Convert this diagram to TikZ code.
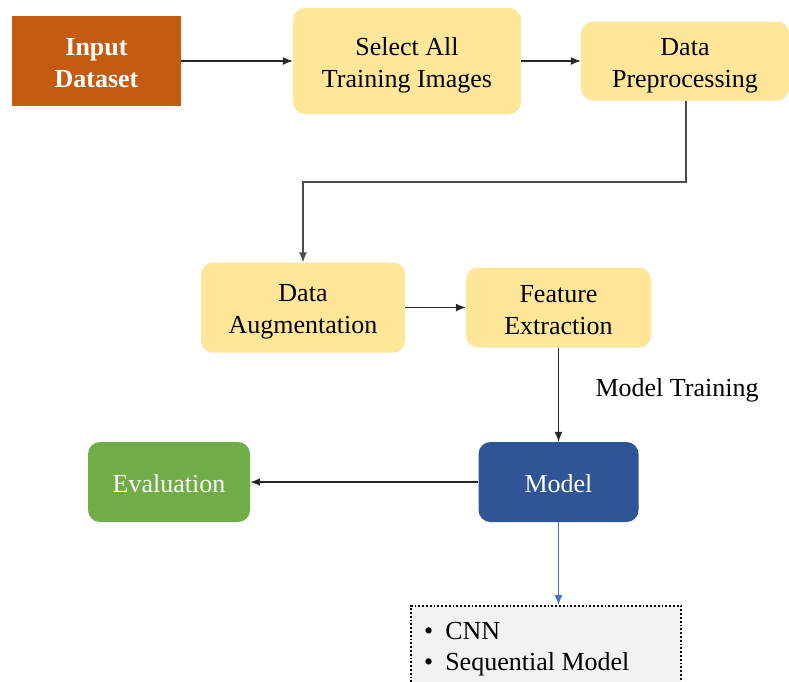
\documentclass[tikz,border=0pt]{standalone}
\usepackage{fontspec}
\setmainfont{Liberation Serif}
\usetikzlibrary{arrows.meta}
\definecolor{inorange}{HTML}{C55A11}
\definecolor{stepyellow}{HTML}{FFE699}
\definecolor{modelblue}{HTML}{2F5597}
\definecolor{evalgreen}{HTML}{70AD47}
\definecolor{linkblue}{HTML}{4472C4}
\definecolor{listgray}{HTML}{F2F2F2}
\tikzset{
  basebox/.style={inner sep=0pt},
  boxtxt/.style={inner sep=0pt, align=center, font=\fontsize{26}{32}\selectfont},
  yellowbox/.style={basebox, fill=stepyellow, rounded corners=12pt},
  conn/.style={draw=black!85, line width=1.4pt, -{Latex[length=10pt,width=8pt]}},
}
\begin{document}
\begin{tikzpicture}[x=1pt,y=-1pt]
\clip (0,0) rectangle (789,681);
\fill[white] (0,0) rectangle (789,681);
\node[basebox, fill=inorange, minimum width=169pt, minimum height=90pt,
  label={[boxtxt, text=white, font=\fontsize{26}{32}\selectfont\bfseries, yshift=-2.5pt]center:Input\\Dataset}] (in) at (96.5,61) {};
\node[yellowbox, minimum width=228pt, minimum height=106pt,
  label={[boxtxt, yshift=-4pt]center:Select All\\Training Images}] (sel) at (407,61) {};
\node[yellowbox, minimum width=208pt, minimum height=79pt,
  label={[boxtxt, yshift=-4.5pt]center:Data\\Preprocessing}] (pre) at (685,61) {};
\node[yellowbox, minimum width=204pt, minimum height=90pt,
  label={[boxtxt, yshift=-4pt]center:Data\\Augmentation}] (aug) at (303,307.5) {};
\node[yellowbox, minimum width=185pt, minimum height=80pt,
  label={[boxtxt, yshift=-3pt]center:Feature\\Extraction}] (feat) at (558.5,307.5) {};
\node[basebox, fill=modelblue, rounded corners=12pt, minimum width=160pt, minimum height=80pt,
  label={[boxtxt, text=white, yshift=-2pt]center:Model}] (model) at (558.5,482) {};
\node[basebox, fill=evalgreen, rounded corners=12pt, minimum width=162pt, minimum height=80pt,
  label={[boxtxt, text=white, yshift=-2pt]center:Evaluation}] (eval) at (169,482) {};
\node[font=\fontsize{26}{32}\selectfont, anchor=center] (mt) at (677,390) {Model Training};
\node[draw=black, dotted, line width=1.8pt, fill=listgray, anchor=north west, minimum width=270pt, minimum height=100pt, inner sep=0pt] (list) at (410,605) {};
\node[font=\fontsize{26}{31}\selectfont, anchor=north west, align=left, inner sep=0pt] (items) at (424,622) {\textbullet\hspace{12pt}CNN\\\textbullet\hspace{12pt}Sequential Model};
\draw[conn] (in.east) -- (sel.west);
\draw[conn] (sel.east) -- (pre.west);
\coordinate (bend) at (686,182);
\draw[conn, draw=black!70] (pre.south -| bend) -- (bend) -| (aug.north);
\draw[conn] (aug.east) -- (feat.west);
\draw[conn] (feat.south) -- (model.north);
\draw[conn] (model.west) -- (eval.east);
\draw[draw=linkblue, line width=1.4pt, -{Latex[length=10pt,width=8pt]}] (model.south) -- (list.north -| model.south);
\end{tikzpicture}
\end{document}
